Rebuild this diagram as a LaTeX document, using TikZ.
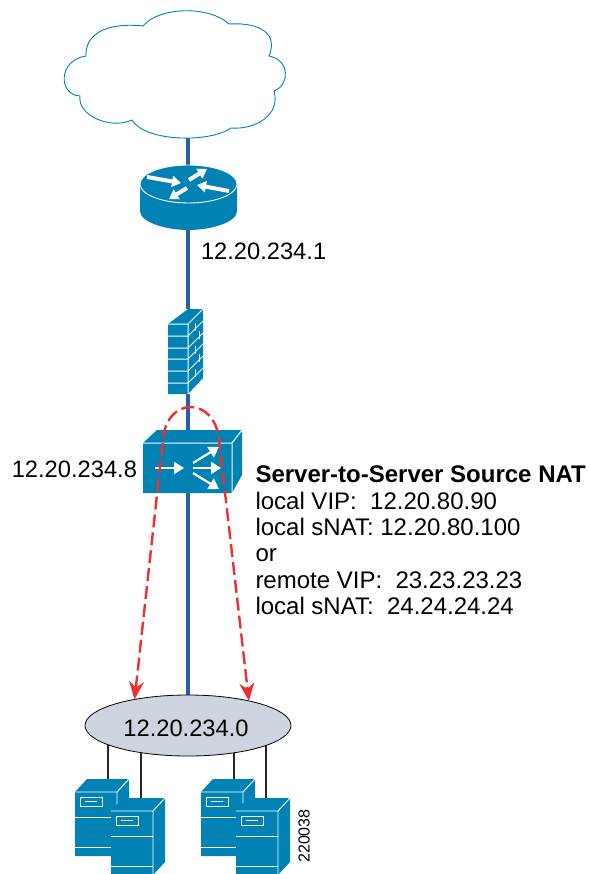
\documentclass[tikz,border=0pt]{standalone}
\usepackage{fontspec}
\setmainfont{Liberation Sans}
\usetikzlibrary{arrows.meta,backgrounds,positioning,shapes.geometric}
\definecolor{ciscoblue}{HTML}{0083B4}
\definecolor{linkblue}{HTML}{2A5FA5}
\definecolor{netgray}{HTML}{CDD4DF}
\definecolor{dashred}{HTML}{EE2E2F}
\newcommand{\serverbox}[1]{%
  \begin{scope}[shift={(#1)}]
    \fill[ciscoblue] (0,13) -- (12,0) -- (54,0) -- (54,64) -- (42,77) -- (0,77) -- cycle;
    \draw[white,line width=.9pt] (0,13) -- (42,13) -- (54,0) (42,13) -- (42,77);
    \draw[white,line width=.9pt] (0,38) -- (42,38) (0,68) -- (42,68);
    \draw[white,line width=.9pt] (5,18) rectangle (27,27) (10,22.5) -- (22,22.5);
  \end{scope}}
\begin{document}
\begin{tikzpicture}[x=1pt,y=-1pt,font=\fontsize{23.7}{27}\selectfont,
    link/.style={draw=linkblue,line width=4pt},
    drop/.style={draw=black!85,line width=2.6pt}]
  \tikzstyle{devbox}=[inner sep=0pt,outer sep=0pt]
  \tikzstyle{natpath}=[draw=dashred,line width=2.4pt,dash pattern=on 13pt off 5pt]
  \tikzstyle{whitearrow}=[-{Triangle[length=10pt,width=12pt]},white,line width=2.2pt]
  \useasboundingbox (0,0) rectangle (589,874);
  % Devices
  \coordinate (cloud) at (188,137);
  \node[devbox,minimum width=97pt,minimum height=65pt] (router) at (188,197.5) {};
  \node[devbox,minimum width=36pt,minimum height=85pt] (firewall) at (188,351.5) {};
  \node[devbox,minimum width=98pt,minimum height=63pt] (switch) at (188,461.5) {};
  \node[devbox,ellipse,draw=black,fill=netgray,line width=.8pt,minimum width=206pt,minimum height=61pt] (lan) at (188,725.5) {};
  \coordinate (srvA) at (108,781);
  \coordinate (srvB) at (141,800);
  \coordinate (srvC) at (234,781);
  \coordinate (srvD) at (266,800);
  % Links
  \begin{scope}[on background layer]
    \path[link] (cloud) -- (router);
    \path[link] (router) -- (firewall);
    \path[link] (firewall) -- (switch);
    \path[link] (switch) -- (lan);
    \foreach \srv in {srvA,srvB,srvC,srvD}
      \draw[drop] (\srv |- lan.center) -- (\srv);
  \end{scope}
  % Cloud
  \draw[draw=ciscoblue,fill=white,line width=.9pt] (86,56)
    .. controls (85,35) and (105,22) .. (143,26)
    .. controls (160,6) and (210,6) .. (229,24)
    .. controls (262,22) and (278,35) .. (269,56)
    .. controls (290,60) and (290,85) .. (274,91)
    .. controls (281,115) and (255,130) .. (231,128)
    .. controls (210,143) and (145,142) .. (132,120)
    .. controls (110,130) and (77,115) .. (80,96)
    .. controls (58,95) and (58,60) .. (86,56) -- cycle;
  % Router
  \fill[ciscoblue] (140,184) -- (140,211) .. controls (140,222) and (165,230) .. (188.5,230)
    .. controls (212,230) and (237,222) .. (237,211) -- (237,184) -- cycle;
  \draw[fill=ciscoblue,draw=white,line width=.9pt] (188.5,184) ellipse[x radius=48.5,y radius=19];
  \foreach \ax/\ay/\bx/\by in {147/177/181/183, 189/180/207/169, 229/191/197/185, 187/188/169/199}
    \draw[-{Triangle[length=9pt,width=11pt]},white,line width=4pt] (\ax,\ay) -- (\bx,\by);
  % Firewall
  \fill[ciscoblue] (168,324) -- (188,309) -- (203,309) -- (203,378) -- (188,394) -- (168,394) -- cycle;
  \draw[white,line width=1pt] (168,324) -- (188,324) -- (203,309) (188,324) -- (188,394);
  \foreach \ly in {336,348,359,371,383}
    \draw[white,line width=1pt] (168,\ly) -- (188,\ly) -- (203,\ly-15);
  \foreach \vx/\vy in {195/329,195/352,195/375,199/337,199/360}
    \draw[white,line width=.8pt] (\vx,\vy-6) -- (\vx,\vy+2);
  % Switch
  \fill[ciscoblue] (143,443) -- (157,430) -- (242,430) -- (242,475) -- (232,493) -- (143,493) -- cycle;
  \draw[white,line width=1pt] (143,443) -- (232,443) -- (242,430) (232,443) -- (232,493);
  \draw[whitearrow] (155,468) -- (184,468);
  \draw[whitearrow] (193,463) -- (219,447);
  \draw[whitearrow] (193,468) -- (221,468);
  \draw[whitearrow] (193,473) -- (219,489);
  % Source NAT path
  \draw[natpath,{Stealth[length=18pt,width=15pt,inset=6pt]}-{Stealth[length=18pt,width=15pt,inset=6pt]}] (lan.154) -- (163,440) .. controls (166,396) and (215,396) .. (219,440) -- (lan.22);
  % Servers
  \node[devbox,xshift=-2pt,yshift=-3pt] (lanlabel) at (lan) {12.20.234.0};
  \serverbox{75,779}
  \serverbox{111,798}
  \serverbox{201,779}
  \serverbox{236,798}
  % Labels
  \node[devbox,anchor=west] (routeraddr) at (201,251) {12.20.234.1};
  \node[devbox,anchor=east] (switchaddr) at (137,469) {12.20.234.8};
  \node[devbox,anchor=north west,align=left,font=\fontsize{24}{26.4}\selectfont] (natinfo) at (255.5,466) {\textbf{Server-to-Server Source NAT}\\local VIP:\ \ 12.20.80.90\\local sNAT: 12.20.80.100\\or\\remote VIP:\ \ 23.23.23.23\\local sNAT:\ \ 24.24.24.24};
  \node[devbox,rotate=90,font=\fontsize{16}{18}\selectfont] (figid) at (304,836) {220038};
\end{tikzpicture}
\end{document}
